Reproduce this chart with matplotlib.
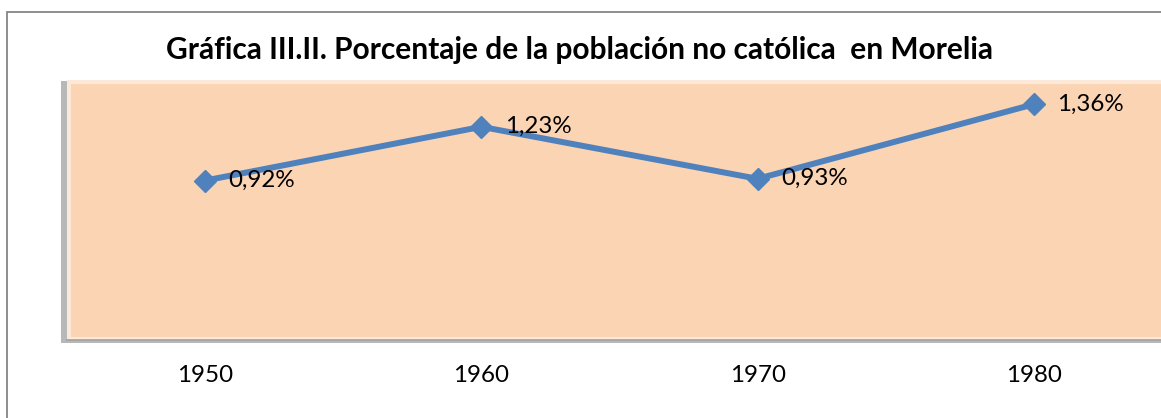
import matplotlib.pyplot as plt
from matplotlib.patches import Rectangle

# datos
years = ["1950", "1960", "1970", "1980"]
pct = [0.92, 1.23, 0.93, 1.36]
labels = ["0,92%", "1,23%", "0,93%", "1,36%"]

plt.rcParams['font.family'] = ['Lato', 'DejaVu Sans']

W, H = 1161, 418
fig = plt.figure(figsize=(W/100, H/100), dpi=100)

# marco del grafico
fig.patches.append(Rectangle((7/W, -0.1), 1.2, (H-12)/H + 0.1, transform=fig.transFigure,
                             fill=False, edgecolor="#868686", linewidth=1.3, zorder=-2))

# area de trazado (se sale por la derecha como en el original)
x0, y0, x1, y1 = 67, 80, 1172, 340
ax = fig.add_axes([x0/W, 1-y1/H, (x1-x0)/W, (y1-y0)/H])
ax.set_zorder(2)

# sombra
fig.patches.append(Rectangle(((x0-6)/W, 1-(y1+3)/H), (x1-x0+6)/W, (y1-y0+2)/H,
                             transform=fig.transFigure, facecolor="#a6a6a6",
                             edgecolor="none", alpha=0.8, zorder=-1))

ax.set_facecolor("#FBD4B4")
for s in ax.spines.values():
    s.set_visible(False)
ax.spines['bottom'].set_visible(True)
ax.spines['bottom'].set_color("#a0a0a0")
ax.spines['bottom'].set_linewidth(1.2)
ax.add_patch(Rectangle((0, 0), 1, 1, transform=ax.transAxes, fill=False,
                       edgecolor="#FDE9D9", linewidth=5, clip_on=True))

xs = range(len(years))
ax.plot(xs, pct, color="#4F81BD", linewidth=4.3, marker="D", markersize=11,
        markeredgecolor="#4F81BD", markerfacecolor="#4F81BD", zorder=3)
for i, (v, t) in enumerate(zip(pct, labels)):
    ax.annotate(t, (i, v), xytext=(17, 0), textcoords="offset points",
                ha="left", va="center", fontsize=17.4, color="black", zorder=4)

ax.set_xlim(-0.5, len(years) - 0.5)
ax.set_ylim(0, 1.5)
ax.set_yticks([])
ax.set_xticks(list(xs))
ax.set_xticklabels(years, fontsize=17.4)
ax.tick_params(axis='x', length=0, pad=18)

fig.text(579/W, 1-50/H, "Gráfica III.II. Porcentaje de la población no católica  en Morelia",
         ha="center", va="center", fontsize=21.5, fontweight="bold")

fig.savefig("out.png", dpi=100)
